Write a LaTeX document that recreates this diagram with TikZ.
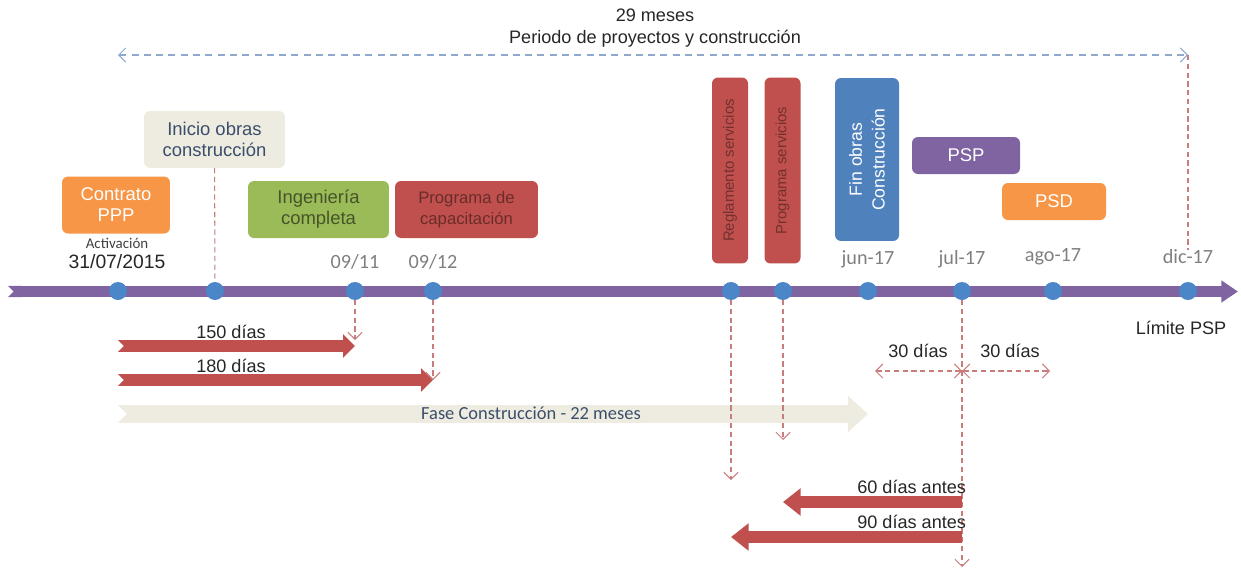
\documentclass[tikz,border=0pt]{standalone}
\usepackage{fontspec}
\setmainfont{Liberation Sans}
\newfontfamily\calib{Carlito}
\usetikzlibrary{arrows.meta,positioning}
\definecolor{linea}{HTML}{8064A2}
\definecolor{punto}{HTML}{4A86C8}
\definecolor{naranja}{HTML}{F79646}
\definecolor{verde}{HTML}{9BBB59}
\definecolor{rojo}{HTML}{C0504D}
\definecolor{azul}{HTML}{4F81BD}
\definecolor{beige}{HTML}{EEECE1}
\definecolor{guion}{HTML}{C97C7C}
\definecolor{guionazul}{HTML}{8EA9CC}
\definecolor{gris}{HTML}{7F7F7F}
\definecolor{pizarra}{HTML}{3B4E6B}

\begin{document}
\begin{tikzpicture}[x=0.02cm,y=-0.02cm]
	\tikzstyle{every node}=[inner sep=0pt,outer sep=0pt]
	\tikzstyle{dot}=[circle,fill=punto,minimum size=0.36cm]
	\tikzstyle{box}=[rounded corners=3.4pt,align=center,
			 font=\fontsize{10.5}{12}\selectfont]
	\tikzstyle{vbox}=[box,rotate=90,fill=rojo,text=rojo!60!black,
			  minimum width=3.72cm,minimum height=0.72cm,
			  font=\fontsize{8.5}{9}\selectfont]
	\tikzstyle{fecha}=[text=gris,font=\calib\fontsize{11.5}{13}\selectfont]
	\tikzstyle{txt}=[text=black!85,font=\fontsize{10.3}{12}\selectfont]
	\tikzstyle{guia}=[guion,dash pattern=on 3pt off 2pt,semithick,
			  -{Straight Barb[length=4pt,width=8pt]}]
	\tikzstyle{banda}=[rojo,line width=6.8pt,
			   {Triangle Cap[reversed]}-{Triangle[length=6.8pt,width=13pt]}]
	\useasboundingbox (0,0) rectangle (1241,572);

	\node[align=center,txt] (periodo) at (655,28)
		{29 meses\\[1pt]Periodo de proyectos y construcción};
	\coordinate (pL) at (118,55);
	\coordinate (pR) at (1188,55);
	\draw[guionazul,dash pattern=on 4pt off 3pt,semithick,
	      {Straight Barb[length=4pt,width=8pt]}-{Straight Barb[length=4pt,width=8pt]}]
		(pL) -- (pR);

	\coordinate (ini) at (8,291.5);
	\coordinate (fin) at (1238,291.5);
	\draw[linea,line width=6.3pt,
	      {Triangle Cap[reversed]}-{Triangle[length=9.5pt,width=12pt]}] (ini) -- (fin);

	\node[dot] (dCont) at (118,291) {};
	\node[dot] (dIni) at (215,291) {};
	\node[dot] (d0911) at (355,291) {};
	\node[dot] (d0912) at (433,291) {};
	\node[dot] (dRegl) at (731,291) {};
	\node[dot] (dProg) at (783,291) {};
	\node[dot] (dJun) at (868,291) {};
	\node[dot] (dJul) at (962,291) {};
	\node[dot] (dAgo) at (1053,291) {};
	\node[dot] (dDic) at (1188,291) {};

	\node[fecha,above=0.25cm of d0911] (f0911) {09/11};
	\node[fecha,above=0.25cm of d0912] (f0912) {09/12};
	\node[fecha,above=0.29cm of dJun] (fJun) {jun-17};
	\node[fecha,above=0.28cm of dJul] (fJul) {jul-17};
	\node[fecha,above=0.34cm of dAgo] (fAgo) {ago-17};
	\node[fecha,above=0.36cm of dDic] (fDic) {dic-17};
	\node[txt,font=\fontsize{11}{12}\selectfont] (fCont) at (117,262) {31/07/2015};
	\node[text=black!75,font=\calib\fontsize{8.5}{9}\selectfont] (activ) at (117,243)
		{Activación};
	\node[txt] (limite) at (1181,328) {Límite PSP};

	\node[box,fill=naranja,text=white,minimum width=2.16cm,minimum height=1.14cm]
		(contrato) at (116,205) {Contrato\\PPP};
	\node[box,fill=beige,text=pizarra,minimum width=2.82cm,minimum height=1.14cm]
		(inicio) at (214.5,139.5) {Inicio obras\\construcción};
	\node[box,fill=verde,text=verde!45!black,minimum width=2.82cm,minimum height=1.14cm]
		(ingen) at (318.5,209.5) {Ingeniería\\completa};
	\node[box,fill=rojo,text=rojo!55!black,minimum width=2.86cm,minimum height=1.14cm,
	      font=\fontsize{9.5}{12}\selectfont]
		(capac) at (466.5,209.5) {Programa de\\capacitación};
	\node[vbox] (regl) at (730,170.5) {Reglamento servicios};
	\node[vbox] (progserv) at (782.5,170.5) {Programa servicios};
	\node[box,rotate=90,fill=azul,text=white,minimum width=3.26cm,minimum height=1.28cm,
	      font=\fontsize{10}{13}\selectfont]
		(finobras) at (867,159.5) {Fin obras\\Construcción};
	\node[box,fill=linea,text=white,minimum width=2.16cm,minimum height=0.74cm]
		(psp) at (966,155.5) {PSP};
	\node[box,fill=naranja,text=white,minimum width=2.08cm,minimum height=0.74cm]
		(psd) at (1054,201.5) {PSD};

	\draw[guia,-] (inicio) -- (dIni);
	\draw[guia,-] (pR) -- (fDic);

	\coordinate (s150) at (118,346);
	\coordinate (s180) at (118,380);
	\coordinate (sFase) at (118,414);
	\draw[banda] (s150) -- (s150 -| d0911);
	\draw[banda] (s180) -- (s180 -| d0912);
	\draw[beige,line width=10.2pt,
	      {Triangle Cap[reversed]}-{Triangle[length=11.4pt,width=20pt]}]
		(sFase) -- (sFase -| dJun);
	\node[txt] (t150) at (231,332) {150 días};
	\node[txt] (t180) at (231,366) {180 días};
	\node[text=pizarra,font=\calib\fontsize{10.5}{12}\selectfont] (tFase) at (531,413)
		{Fase Construcción - 22 meses};

	\draw[guia] (d0911) -- (d0911 |- 0,340);
	\draw[guia] (d0912) -- (d0912 |- s180);
	\coordinate (bRegl) at (731,480);
	\coordinate (bProg) at (783,440);
	\coordinate (bJul) at (962,567);
	\draw[guia] (dRegl) -- (bRegl);
	\draw[guia] (dProg) -- (bProg);
	\draw[guia] (dJul) -- (bJul);

	\coordinate (i30) at (875,371);
	\coordinate (d30) at (1050,371);
	\draw[guia,{Straight Barb[length=4pt,width=8pt]}-{Straight Barb[length=4pt,width=8pt]}]
		(i30) -- (i30 -| dJul);
	\draw[guia,{Straight Barb[length=4pt,width=8pt]}-{Straight Barb[length=4pt,width=8pt]}]
		(i30 -| dJul) -- (d30);
	\node[txt] (t30a) at (918,351) {30 días};
	\node[txt] (t30b) at (1010,351) {30 días};

	\coordinate (e60) at (962,502);
	\coordinate (e90) at (962,537);
	\draw[rojo,line width=6.8pt,-{Triangle[length=10pt,width=15pt]}] (e60) -- (e60 -| dProg);
	\draw[rojo,line width=6.8pt,-{Triangle[length=10pt,width=15pt]}] (e90) -- (e90 -| dRegl);
	\node[txt,anchor=east] (t60) at (966,487) {60 días antes};
	\node[txt,anchor=east] (t90) at (966,522) {90 días antes};
\end{tikzpicture}
\end{document}
